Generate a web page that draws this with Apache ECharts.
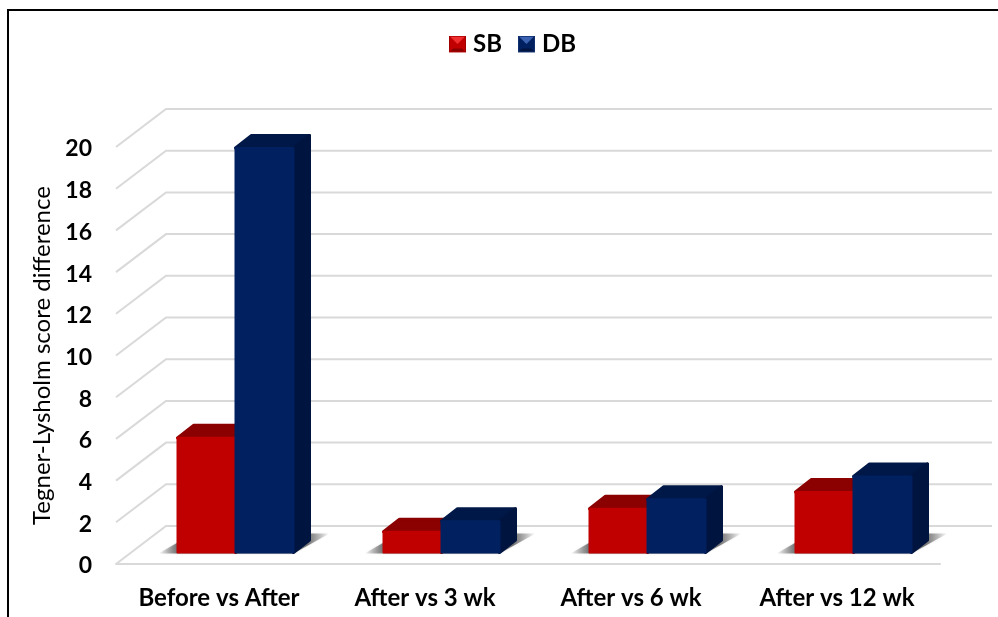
<!DOCTYPE html>
<html>
<head>
<meta charset="utf-8">
<style>html,body{margin:0;padding:0;background:#fff}#c{width:998px;height:617px}</style>
<script src="https://cdn.jsdelivr.net/npm/echarts@6/dist/echarts.min.js"></script>
</head>
<body>
<div id="c"></div>
<script>
const categories = ['Before vs After', 'After vs 3 wk', 'After vs 6 wk', 'After vs 12 wk'];
const sbValues = [5.5, 1.0, 2.1, 2.9];
const dbValues = [19.4, 1.5, 2.55, 3.65];
const yTicks = [0, 2, 4, 6, 8, 10, 12, 14, 16, 18, 20];

const FONT = 'Lato, "Open Sans", sans-serif';
const WALL = { dx: 50, dy: 38, extra: 2 };
const PLANE = { dx: 16.5, dy: 11.5 };
const BAR = { w: 58, dx: 16, dy: 12.5 };
const GRID_COLOR = '#d9d9d9';

function icon(main, light, dark, edge) {
  const svg = '<svg xmlns="http://www.w3.org/2000/svg" width="17" height="17">' +
    '<rect width="17" height="17" fill="' + main + '"/>' +
    '<polygon points="1,1 16,1 8.5,8.5" fill="' + light + '"/>' +
    '<polygon points="1,16 16,16 13,13 4,13" fill="' + dark + '"/>' +
    '<rect x=".5" y=".5" width="16" height="16" fill="none" stroke="' + edge + '"/></svg>';
  return 'image://data:image/svg+xml;utf8,' + encodeURIComponent(svg);
}

function wallItem(params, api) {
  const cs = params.coordSys;
  const y = api.coord([0, api.value(1)])[1];
  const x = cs.x;
  return {
    type: 'polyline',
    silent: true,
    shape: { points: [[x, y], [x + WALL.dx, y - WALL.dy], [x + cs.width + WALL.dx + WALL.extra, y - WALL.dy]] },
    style: { stroke: GRID_COLOR, lineWidth: 2, fill: null }
  };
}

function shadowItem(params, api) {
  const p = api.coord([api.value(0), 0]);
  const x0 = p[0] - BAR.w + PLANE.dx;
  const x1 = p[0] + BAR.w + PLANE.dx;
  const y = p[1] - PLANE.dy + 1;
  const pts = [[x0 - 19, y], [x1, y], [x1 + 36, y - 20], [x0 + 16, y - 20]];
  return {
    type: 'polygon',
    silent: true,
    shape: { points: pts },
    style: {
      shadowBlur: 2,
      shadowColor: 'rgba(120,120,120,0.4)',
      fill: new echarts.graphic.LinearGradient(0, 0, 1, 0, [
        { offset: 0, color: 'rgba(80,80,80,0)' },
        { offset: 0.11, color: 'rgba(80,80,80,0.75)' },
        { offset: 0.87, color: 'rgba(80,80,80,0.75)' },
        { offset: 1, color: 'rgba(80,80,80,0)' }
      ])
    }
  };
}

function barRenderer(side, front, top, right) {
  return function (params, api) {
    const cat = api.value(0);
    const base = api.coord([cat, 0]);
    const head = api.coord([cat, api.value(1)]);
    const cx = base[0] + PLANE.dx;
    const x0 = side < 0 ? cx - BAR.w : cx;
    const x1 = x0 + BAR.w;
    const yb = base[1] - PLANE.dy;
    const yt = head[1] - PLANE.dy;
    const face = (pts, color, lw) => ({
      type: 'polygon',
      shape: { points: pts },
      style: { fill: color, stroke: color, lineWidth: lw, lineJoin: 'round' }
    });
    return {
      type: 'group',
      children: [
        face([[x0, yt], [x0 + BAR.dx, yt - BAR.dy], [x1 + BAR.dx, yt - BAR.dy], [x1, yt]], top, 3),
        face([[x1, yt], [x1 + BAR.dx, yt - BAR.dy], [x1 + BAR.dx, yb - BAR.dy], [x1, yb]], right, 3),
        face([[x0, yt], [x1, yt], [x1, yb], [x0, yb]], front, 2)
      ]
    };
  };
}

const chart = echarts.init(document.getElementById('c'), null, { renderer: 'canvas' });
chart.setOption({
  animation: false,
  backgroundColor: '#fff',
  textStyle: { fontFamily: FONT },
  graphic: [
    { type: 'line', silent: true, shape: { x1: 7, y1: 10, x2: 998, y2: 10 }, style: { stroke: '#000', lineWidth: 2 } },
    { type: 'line', silent: true, shape: { x1: 8, y1: 9, x2: 8, y2: 617 }, style: { stroke: '#000', lineWidth: 2 } }
  ],
  legend: {
    left: 449, top: 32, padding: 0, itemWidth: 17, itemHeight: 17, itemGap: 16,
    textStyle: { fontFamily: FONT, fontWeight: 'bold', fontSize: 24, color: '#000', padding: [0, 0, 0, 2] },
    data: [
      { name: 'SB', icon: icon('#c00000', '#f03030', '#8a0000', '#a00000') },
      { name: 'DB', icon: icon('#002060', '#3a62b0', '#001440', '#12306e') }
    ]
  },
  grid: { left: 116, top: 147, width: 824, height: 417, containLabel: false },
  xAxis: {
    type: 'category', data: categories,
    axisLine: { show: true, lineStyle: { color: GRID_COLOR, width: 2 } },
    axisTick: { show: false }, splitLine: { show: false },
    axisLabel: { fontFamily: FONT, fontWeight: 'bold', fontSize: 24, color: '#000', margin: 22, interval: 0 }
  },
  yAxis: {
    type: 'value', min: 0, max: 20, interval: 2,
    name: 'Tegner-Lysholm score difference', nameLocation: 'middle', nameGap: 65, nameRotate: 90,
    nameTextStyle: { fontFamily: FONT, fontSize: 24, color: '#000', padding: [0, 0, -3, 0] },
    axisLine: { show: false }, axisTick: { show: false }, splitLine: { show: false },
    axisLabel: { fontFamily: FONT, fontWeight: 'bold', fontSize: 23, color: '#000', margin: 24, verticalAlign: 'top', lineHeight: 4 }
  },
  series: [
    { type: 'custom', name: 'walls', z: 1, silent: true, clip: false, renderItem: wallItem,
      data: yTicks.map(v => [0, v]), encode: { x: 0, y: 1 } },
    { type: 'custom', name: 'floorShadow', z: 2, silent: true, clip: false, renderItem: shadowItem,
      data: categories.map((c, i) => [i, 0]), encode: { x: 0, y: 1 } },
    { type: 'custom', name: 'SB', z: 3, clip: false, itemStyle: { color: '#c00000' },
      renderItem: barRenderer(-1, '#c00000', '#8b0000', '#7a0000'),
      data: sbValues.map((v, i) => [i, v]), encode: { x: 0, y: 1 } },
    { type: 'custom', name: 'DB', z: 4, clip: false, itemStyle: { color: '#002060' },
      renderItem: barRenderer(1, '#002060', '#001848', '#001440'),
      data: dbValues.map((v, i) => [i, v]), encode: { x: 0, y: 1 } }
  ]
});
</script>
</body>
</html>
